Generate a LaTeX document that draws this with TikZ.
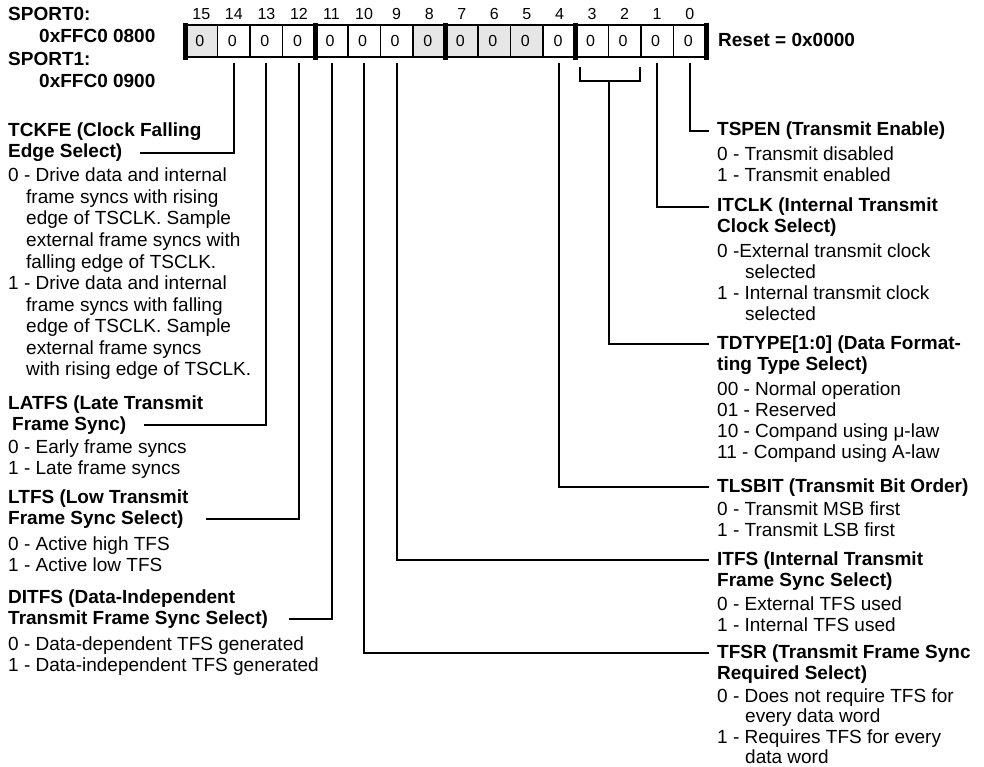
\documentclass[tikz,border=0pt]{standalone}
\usepackage{fontspec}
\setmainfont{Liberation Sans}
\definecolor{cellgray}{HTML}{E6E6E6}
\begin{document}
\begin{tikzpicture}[x=1pt,y=-1pt,
  rg/.style={anchor=base west, inner sep=0pt, font=\fontsize{19}{21}\selectfont},
  bd/.style={anchor=base west, inner sep=0pt, font=\fontsize{19}{21}\selectfont\bfseries},
  cellbox/.style={draw, line width=1.6pt, minimum width=32.5625pt, minimum height=32pt, inner sep=0pt, font=\fontsize{16}{18}\selectfont},
  bitnum/.style={anchor=base, inner sep=0pt, font=\fontsize{16}{18}\selectfont},
  conn/.style={line width=2pt},
]
\useasboundingbox (0,0) rectangle (984,767);

% register cells
\foreach \b/\fc in {15/cellgray,14/white,13/white,12/white,11/white,10/white,9/white,8/cellgray,7/cellgray,6/cellgray,5/cellgray,4/white,3/white,2/white,1/white,0/white}{
  \node[cellbox, fill=\fc] (c\b) at ({185+(15.5-\b)*32.5625},41) {\hspace*{-3pt}0};
  \node[bitnum] (n\b) at ([yshift=5pt]c\b.north) {\b};
}
\foreach \x in {185,315.25,445.5,575.75,706}
  \fill (\x-2.5,23.5) rectangle (\x+2.5,60);

\node[bd] (reset) at (718,47) {Reset = 0x0000};

% left header
\node[bd] (sp0) at (8,21) {SPORT0:};
\node[bd] (sp0a) at (39,43) {0xFFC0 0800};
\node[bd] (sp1) at (8,66) {SPORT1:};
\node[bd] (sp1a) at (39,88) {0xFFC0 0900};

% TCKFE
\node[bd] (tckfeA) at (8,137) {TCKFE (Clock Falling};
\node[bd] (tckfeB) at (8,158) {Edge Select)};
\node[rg] (tk1) at (8,182) {0 - Drive data and internal};
\node[rg] (tk2) at (26,203.5) {frame syncs with rising};
\node[rg] (tk3) at (26,225) {edge of TSCLK. Sample};
\node[rg] (tk4) at (26,246.5) {external frame syncs with};
\node[rg] (tk5) at (26,268) {falling edge of TSCLK.};
\node[rg] (tk6) at (8,289.5) {1 - Drive data and internal};
\node[rg] (tk7) at (26,311) {frame syncs with falling};
\node[rg] (tk8) at (26,332.5) {edge of TSCLK. Sample};
\node[rg] (tk9) at (26,354) {external frame syncs};
\node[rg] (tk10) at (26,375.5) {with rising edge of TSCLK.};

% LATFS
\node[bd] (latfsA) at (8,409) {LATFS (Late Transmit};
\node[bd] (latfsB) at (12,430) {Frame Sync)};
\node[rg] (la1) at (8,453) {0 - Early frame syncs};
\node[rg] (la2) at (8,474) {1 - Late frame syncs};

% LTFS
\node[bd] (ltfsA) at (8,503) {LTFS (Low Transmit};
\node[bd] (ltfsB) at (8,524) {Frame Sync Select)};
\node[rg] (lt1) at (8,550) {0 - Active high TFS};
\node[rg] (lt2) at (8,571) {1 - Active low TFS};

% DITFS
\node[bd] (ditfsA) at (8,603) {DITFS (Data-Independent};
\node[bd] (ditfsB) at (8,624) {Transmit Frame Sync Select)};
\node[rg] (di1) at (8,650) {0 - Data-dependent TFS generated};
\node[rg] (di2) at (8,671) {1 - Data-independent TFS generated};

% right column
\node[bd] (tspen) at (717,136) {TSPEN (Transmit Enable)};
\node[rg] (ts1) at (717,161) {0 - Transmit disabled};
\node[rg] (ts2) at (717,182) {1 - Transmit enabled};

\node[bd] (itclk) at (717,212) {ITCLK (Internal Transmit};
\node[bd] (itclkB) at (717,233) {Clock Select)};
\node[rg] (ic1) at (717,257) {0 -External transmit clock};
\node[rg] (ic2) at (745,278) {selected};
\node[rg] (ic3) at (717,299) {1 - Internal transmit clock};
\node[rg] (ic4) at (745,320) {selected};

\node[bd] (tdtype) at (717,349) {TDTYPE[1:0] (Data Format-};
\node[bd] (tdtypeB) at (717,370) {ting Type Select)};
\node[rg] (td1) at (717,395) {00 - Normal operation};
\node[rg] (td2) at (717,416) {01 - Reserved};
\node[rg] (td3) at (717,437) {10 - Compand using μ-law};
\node[rg] (td4) at (717,458) {11 - Compand using A-law};

\node[bd] (tlsbit) at (717,492) {TLSBIT (Transmit Bit Order)};
\node[rg] (tl1) at (717,515) {0 - Transmit MSB first};
\node[rg] (tl2) at (717,536) {1 - Transmit LSB first};

\node[bd] (itfs) at (717,565) {ITFS (Internal Transmit};
\node[bd] (itfsB) at (717,586) {Frame Sync Select)};
\node[rg] (if1) at (717,610) {0 - External TFS used};
\node[rg] (if2) at (717,631) {1 - Internal TFS used};

\node[bd] (tfsr) at (717,658) {TFSR (Transmit Frame Sync};
\node[bd] (tfsrB) at (717,679) {Required Select)};
\node[rg] (tf1) at (717,702) {0 - Does not require TFS for};
\node[rg] (tf2) at (745,722.5) {every data word};
\node[rg] (tf3) at (717,743) {1 - Requires TFS for every};
\node[rg] (tf4) at (745,763) {data word};

% connectors right
\draw[conn] ([yshift=-5pt]c0.south) |- ([xshift=-8pt]tspen.west);
\draw[conn] ([yshift=-5pt]c1.south) |- ([xshift=-8pt]itclk.west);
\draw[conn] ([xshift=-12pt,yshift=-9pt]c3.south) |- ([xshift=15pt,yshift=-23pt]c2.south) -- ([xshift=15pt,yshift=-9pt]c2.south);
\draw[conn] ([yshift=-23pt]c3.south east) |- ([xshift=-8pt]tdtype.west);
\draw[conn] ([yshift=-5pt]c4.south) |- ([xshift=-8pt]tlsbit.west);
\draw[conn] ([yshift=-5pt]c9.south) |- ([xshift=-8pt]itfs.west);
\draw[conn] ([yshift=-5pt]c10.south) |- ([xshift=-8pt]tfsr.west);

% connectors left
\draw[conn] ([yshift=-5pt]c14.south) |- ([xshift=18pt]tckfeB.east);
\draw[conn] ([yshift=-5pt]c13.south) |- ([xshift=18pt]latfsB.east);
\draw[conn] ([yshift=-5pt]c12.south) |- ([xshift=22pt]ltfsB.east);
\draw[conn] ([yshift=-5pt]c11.south) |- ([xshift=21pt]ditfsB.east);
\end{tikzpicture}
\end{document}
